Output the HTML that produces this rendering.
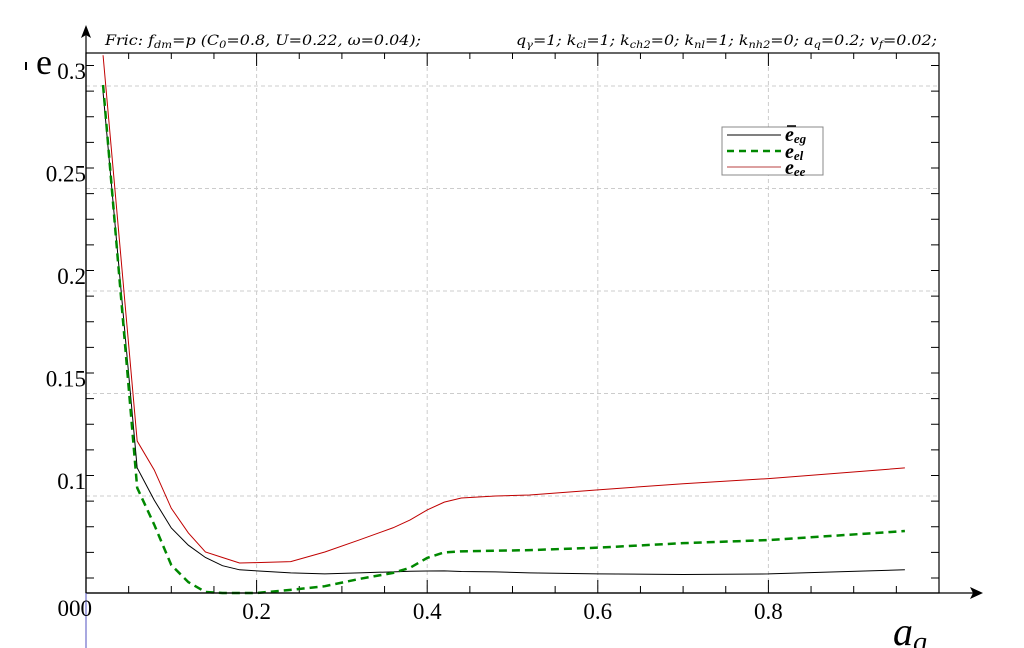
<!DOCTYPE html>
<html><head><meta charset="utf-8"><style>
html,body{margin:0;padding:0;background:#fff;}
svg{display:block;}
</style></head><body>
<svg id="chart" width="1024" height="648" xmlns="http://www.w3.org/2000/svg">
<g id="grid"></g>
<rect x="86" y="53" width="853" height="540" fill="none" stroke="#000" stroke-width="1.2"/>
<g id="ticks"></g>
<g id="series"></g>
<line x1="86" y1="593" x2="975" y2="593" stroke="#000" stroke-width="1.2"/>
<polygon points="983,593 970,587 973,593 970,599" fill="#000"/>
<line x1="86" y1="593" x2="86" y2="32" stroke="#000" stroke-width="1.2"/>
<polygon points="86,25 81,38 86,35 91,38" fill="#000"/>
<line x1="86" y1="593" x2="86" y2="648" stroke="#5050c0" stroke-width="1"/>
<g id="labels" font-family="Liberation Serif, serif" font-size="23" fill="#000"></g>
<text x="105" y="45" textLength="316" lengthAdjust="spacingAndGlyphs" font-family="DejaVu Serif, serif" font-style="italic" font-size="14">Fric: f<tspan font-size="10" dy="3">dm</tspan><tspan dy="-3">=p (C</tspan><tspan font-size="10" dy="3">0</tspan><tspan dy="-3">=0.8, U=0.22, ω=0.04);</tspan></text>
<text x="516" y="45" textLength="421" lengthAdjust="spacingAndGlyphs" font-family="DejaVu Serif, serif" font-style="italic" font-size="14">q<tspan font-size="10" dy="3">γ</tspan><tspan dy="-3">=1; k</tspan><tspan font-size="10" dy="3">cl</tspan><tspan dy="-3">=1; k</tspan><tspan font-size="10" dy="3">ch2</tspan><tspan dy="-3">=0; k</tspan><tspan font-size="10" dy="3">nl</tspan><tspan dy="-3">=1; k</tspan><tspan font-size="10" dy="3">nh2</tspan><tspan dy="-3">=0; a</tspan><tspan font-size="10" dy="3">q</tspan><tspan dy="-3">=0.2; v</tspan><tspan font-size="10" dy="3">f</tspan><tspan dy="-3">=0.02;</tspan></text>
<text x="36" y="74" font-family="Liberation Serif, serif" font-size="36">e</text>
<line x1="26" y1="62" x2="26" y2="70" stroke="#000" stroke-width="2"/>
<text x="893" y="645" font-family="Liberation Serif, serif" font-style="italic" font-size="40">a<tspan font-size="28" dy="6">q</tspan></text>
<g>
<rect x="722" y="127" width="101" height="48" fill="#fff" stroke="#888" stroke-width="1"/>
<line x1="727" y1="135" x2="781" y2="135" stroke="#000" stroke-width="1"/>
<line x1="727" y1="151" x2="781" y2="151" stroke="#008800" stroke-width="2.5" stroke-dasharray="7,5"/>
<line x1="727" y1="167" x2="781" y2="167" stroke="#d08080" stroke-width="1.5"/>
<g font-family="Liberation Serif, serif" font-style="italic" font-weight="bold" font-size="20">
<line x1="787" y1="126" x2="796" y2="126" stroke="#000" stroke-width="1.5"/>
<text x="785" y="141">e<tspan font-size="13" dy="2">eg</tspan></text>
<text x="785" y="158">e<tspan font-size="13" dy="2">el</tspan></text>
<text x="785" y="174">e<tspan font-size="13" dy="2">ee</tspan></text>
</g></g>
</svg>
<script>
const xs   = [0.02,0.06,0.08,0.1,0.12,0.14,0.16,0.18,0.2,0.24,0.28,0.32,0.36,0.38,0.4,0.42,0.44,0.48,0.52,0.6,0.7,0.8,0.96];
const eeg  = [0.297,0.1137,0.098,0.0844,0.076,0.070,0.066,0.064,0.0635,0.0625,0.062,0.0625,0.063,0.0633,0.0634,0.0635,0.0632,0.063,0.0625,0.062,0.0617,0.062,0.064];
const eel  = [0.3005,0.104,0.086,0.0663,0.058,0.0532,0.0527,0.0527,0.0527,0.0542,0.056,0.0595,0.0625,0.065,0.0698,0.0725,0.073,0.0733,0.0736,0.0748,0.077,0.0785,0.0829];
const eee  = [0.315,0.1268,0.1127,0.094,0.082,0.0727,0.070,0.0673,0.0675,0.068,0.0727,0.0785,0.0845,0.0883,0.0932,0.097,0.099,0.1,0.1005,0.103,0.106,0.1085,0.1137];
const xTicks = [0.2,0.4,0.6,0.8];
const yTicks = [0.1,0.15,0.2,0.25,0.3];
const NS='http://www.w3.org/2000/svg';
function X(v){return 86+v*853;}
function Y(v){return 496-(v-0.1)*2050;}
function mk(t,a,p){const e=document.createElementNS(NS,t);for(const k in a)e.setAttribute(k,a[k]);p.appendChild(e);return e;}
const grid=document.getElementById('grid'),ticks=document.getElementById('ticks'),labels=document.getElementById('labels'),series=document.getElementById('series');
xTicks.forEach(v=>{const g=mk('line',{x1:X(v),y1:53,x2:X(v),y2:593,stroke:'#ccc','stroke-dasharray':'4,3'},grid);


const t=mk('text',{x:X(v),y:619,'text-anchor':'middle'},labels);t.textContent=String(v);

});
yTicks.forEach(v=>{const g=mk('line',{x1:86,y1:Y(v),x2:939,y2:Y(v),stroke:'#ccc','stroke-dasharray':'4,3'},grid);


const t=mk('text',{x:86,y:Y(v)-7,'text-anchor':'end'},labels);t.textContent=String(v);

});
for(let v=0.05;v<1;v+=0.05){const big=Math.abs(v*5-Math.round(v*5))<1e-6;
mk('line',{x1:X(v),y1:593,x2:X(v),y2:big?580:586,stroke:'#000'},ticks);
mk('line',{x1:X(v),y1:53,x2:X(v),y2:big?66:59,stroke:'#000'},ticks);}
for(let v=0.06;v<0.32;v+=0.0125){const big=Math.abs(v*20-Math.round(v*20))<1e-6;
if(Y(v)<53||Y(v)>593)continue;
mk('line',{x1:86,y1:Y(v),x2:big?101:94,y2:Y(v),stroke:'#000'},ticks);
mk('line',{x1:939,y1:Y(v),x2:big?924:931,y2:Y(v),stroke:'#000'},ticks);}
const t0=mk('text',{x:92,y:616,'text-anchor':'end'},labels);t0.textContent='000';


function line(d,stroke,w,dash,name){const pts=xs.map((x,i)=>X(x)+','+Y(d[i])).join(' ');
const p=mk('polyline',{points:pts,fill:'none',stroke:stroke,'stroke-width':w},series);
if(dash)p.setAttribute('stroke-dasharray',dash);

}
line(eeg,'#000',1,null,'series-eeg');
line(eel,'#008800',2.5,'8,5','series-eel');
line(eee,'#c00000',1,null,'series-eee');
</script>
</body></html>
